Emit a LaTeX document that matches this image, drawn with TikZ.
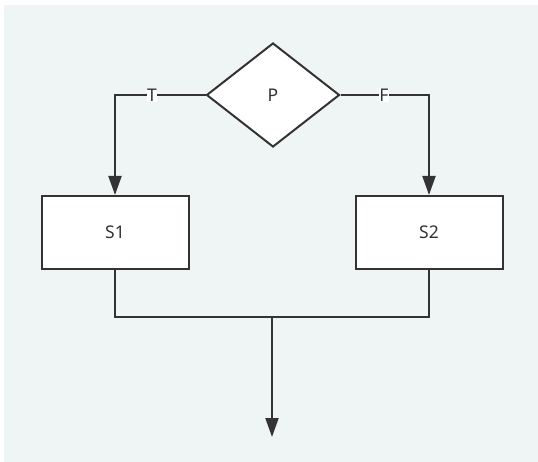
\documentclass[tikz,border=0pt]{standalone}
\usepackage{fontspec}
\setmainfont{Noto Sans}
\usetikzlibrary{shapes.geometric,arrows.meta}
\definecolor{bg}{HTML}{EFF4F5}
\definecolor{ln}{HTML}{333333}
\tikzset{
  txt/.style={font=\fontsize{17.5}{20}\selectfont,text=ln},
  box/.style={txt,draw=ln,line width=2pt,fill=white,minimum width=147pt,minimum height=73pt,inner sep=0pt},
  dia/.style={txt,draw=ln,line width=2pt,fill=white,diamond,minimum width=133pt,minimum height=104pt,inner sep=0pt,aspect=1.28},
  conn/.style={draw=ln,line width=2pt},
  arr/.style={conn,-{Triangle[length=19pt,width=13pt]}},
  lab/.style={txt,fill=white,inner sep=0.5pt}
}
\begin{document}
\begin{tikzpicture}[x=1pt,y=-1pt]
\useasboundingbox (0,0) rectangle (538,462);
\fill[white] (0,0) rectangle (538,462);
\fill[bg] (4,5) rectangle (538,462);
\node[dia] (p) at (273,95) {P};
\node[box] (s1) at (115,232.5) {S1};
\node[box] (s2) at (429,232.5) {S2};
\coordinate (j) at (272,317);
\coordinate (end) at (272,437);
\draw[arr] (p.west) -- (115,95) -- (s1.north);
\draw[arr] (p.east) -- (429,95) -- (s2.north);
\node[lab] (t) at (152,95) {T};
\node[lab] (f) at (384,95) {F};
\draw[conn] (s1.south) |- (j);
\draw[conn] (s2.south) |- (j);
\draw[arr] (j) -- (end);
\end{tikzpicture}
\end{document}
